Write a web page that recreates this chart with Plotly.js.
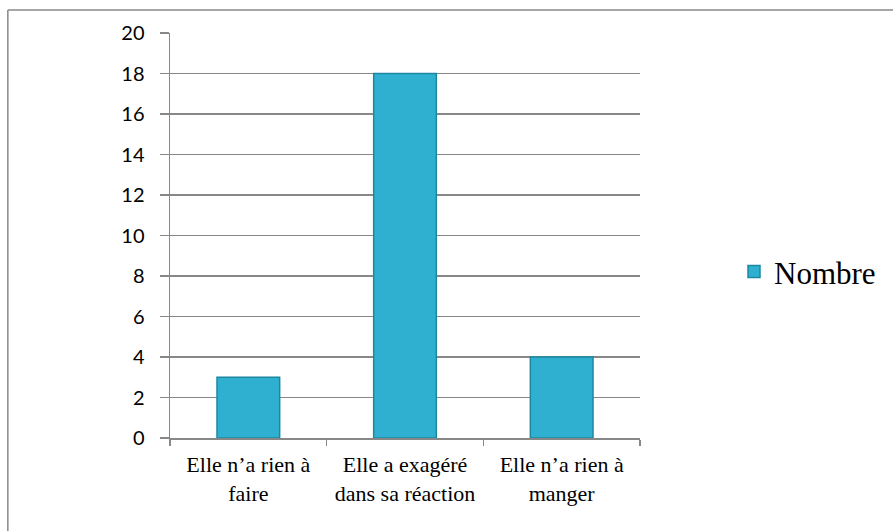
<!DOCTYPE html>
<html><head><meta charset="utf-8">
<script src="https://cdn.plot.ly/plotly-3.0.1.min.js"></script>
<style>html,body{margin:0;padding:0;background:#fff;}#chart{width:893px;height:531px;}</style>
</head><body><div id="chart"></div>
<script>
const categories = ["Elle n’a rien à<br>faire", "Elle a exagéré<br>dans sa réaction", "Elle n’a rien à<br>manger"];
const values = [3, 18, 4];
const seriesName = "Nombre";
const yTicks = [0, 2, 4, 6, 8, 10, 12, 14, 16, 18, 20];

const serif = "Liberation Serif";
const trace = {
  type: "bar", x: categories, y: values, name: seriesName,
  marker: {color: "#2fb0d0", line: {color: "#1d87a2", width: 1.5}},
  width: 0.4, showlegend: true, hoverinfo: "none"
};
const layout = {
  width: 893, height: 531,
  margin: {l: 170, r: 253, t: 33, b: 93, autoexpand: false},
  paper_bgcolor: "#fff", plot_bgcolor: "#fff",
  showlegend: true,
  legend: {x: 1.2, y: 0.41, xanchor: "left", yanchor: "middle",
    font: {family: serif, size: 31, color: "#000"}, itemwidth: 30, bgcolor: "rgba(0,0,0,0)"},
  xaxis: {tickfont: {family: serif, size: 22, color: "#000"}, tickangle: 0,
    showline: true, linecolor: "#888", linewidth: 1.5, ticks: "outside", tickson: "boundaries",
    ticklen: 6, tickcolor: "#888", tickwidth: 1.5, showgrid: false, fixedrange: true,
    ticklabelstandoff: 6},
  yaxis: {range: [0, 20], tickvals: yTicks, ticktext: yTicks.map(String),
    tickfont: {family: "Lato", size: 20, color: "#000"},
    showline: true, linecolor: "#888", linewidth: 1.5, ticks: "outside", ticklen: 9,
    tickcolor: "#888", tickwidth: 1.5, showgrid: true, gridcolor: "#888", gridwidth: 1.5,
    zeroline: false, ticklabelstandoff: 11, fixedrange: true},
  shapes: [
    {type: "line", xref: "paper", yref: "paper", x0: -0.345, x1: 1.6, y0: 1.0568, y1: 1.0568, line: {color: "#888", width: 1.5}},
    {type: "line", xref: "paper", yref: "paper", x0: -0.345, x1: -0.345, y0: 1.0568, y1: -0.24, line: {color: "#888", width: 1.5}}
  ]
};
Plotly.newPlot("chart", [trace], layout, {displayModeBar: false, staticPlot: true});
</script></body></html>
